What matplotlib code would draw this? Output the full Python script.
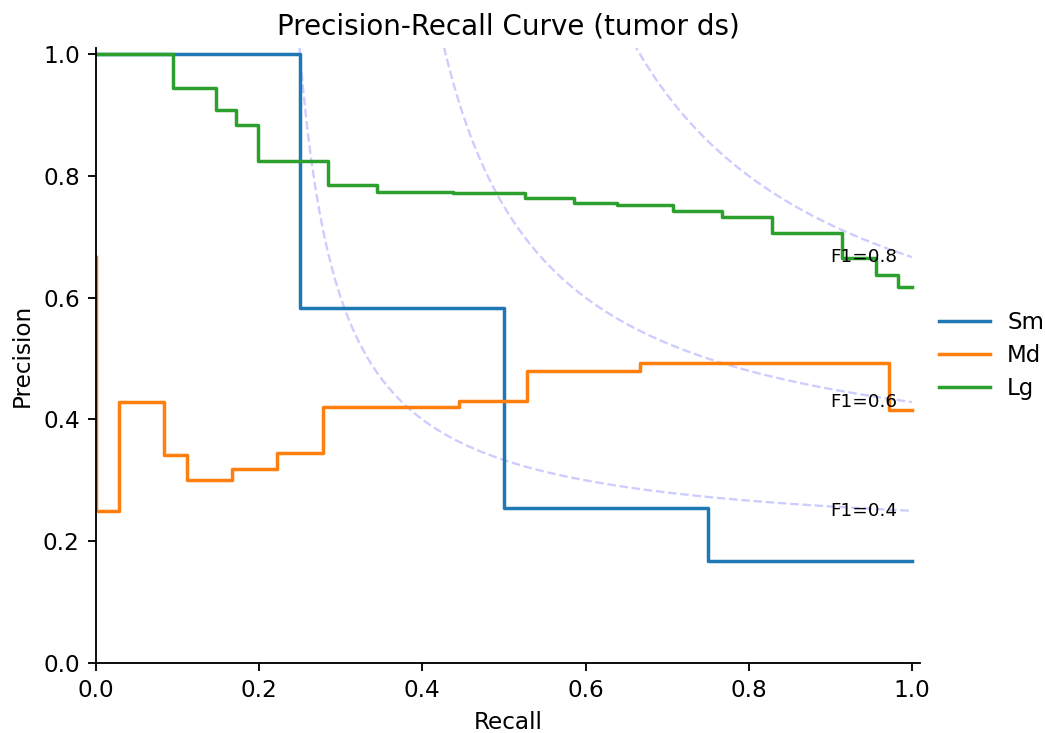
import numpy as np
import matplotlib
matplotlib.use("Agg")
import matplotlib.pyplot as plt

# Precision-recall curves, recall in descending order (sklearn-style arrays)
labels = ["Sm", "Md", "Lg"]
colors = ["#1f77b4", "#ff7f0e", "#2ca02c"]

sm_recall = [1.0, 0.75, 0.5, 0.25, 0.0]
sm_precision = [0.167, 0.254, 0.583, 1.0, 1.0]

md_recall = [1.0, 35/36, 32/36, 24/36, 19/36, 16/36, 10/36, 8/36, 6/36, 4/36, 3/36, 1/36, 0.0]
md_precision = [0.416, 0.493, 0.492, 0.479, 0.431, 0.420, 0.345, 0.319, 0.300, 0.342, 0.428, 0.250, 0.667]

lg_recall = [1.0, 0.983, 0.956, 0.914, 0.828, 0.767, 0.707, 0.638, 0.586, 0.526,
             0.4375, 0.344, 0.284, 0.198, 0.172, 0.147, 0.094, 0.0]
lg_precision = [0.617, 0.637, 0.665, 0.707, 0.732, 0.742, 0.752, 0.755, 0.764, 0.772,
                0.773, 0.785, 0.8245, 0.884, 0.909, 0.944, 1.0, 1.0]

f1_levels = [0.4, 0.6, 0.8]
title = "Precision-Recall Curve (tumor ds)"

dpi = 150
s = 1.11  # overall text/line scale
fig = plt.figure(figsize=(1045 / dpi, 733 / dpi), dpi=dpi)
ax = fig.add_axes([96 / 1045, 1 - 663 / 733, (920 - 96) / 1045, (663 - 48) / 733])

# iso-F1 reference curves
for f in f1_levels:
    x = np.linspace(0.01, 1, 200)
    y = f * x / (2 * x - f)
    keep = (y >= 0) & (2 * x - f > 0)
    ax.plot(x[keep], y[keep], color="blue", alpha=0.2, linestyle="--", linewidth=1.0 * s)
    ax.annotate(f"F1={f:.1f}", xy=(0.9, y[-1]), va="center", fontsize=8.8)

for rec, prec, lab, c in zip([sm_recall, md_recall, lg_recall],
                             [sm_precision, md_precision, lg_precision],
                             labels, colors):
    ax.plot(rec, prec, drawstyle="steps-post", color=c, linewidth=1.5 * s, label=lab)

ax.set_xlim(0, 1.01)
ax.set_ylim(0, 1.01)
ax.set_xticks([0, 0.2, 0.4, 0.6, 0.8, 1.0])
ax.set_yticks([0, 0.2, 0.4, 0.6, 0.8, 1.0])
ax.tick_params(labelsize=10 * s, width=0.8 * s, length=3.5 * s, pad=3.5 * s)
ax.set_xlabel("Recall", fontsize=10 * s, labelpad=4 * s)
ax.set_ylabel("Precision", fontsize=10 * s, labelpad=4 * s)
ax.set_title(title, fontsize=12 * s, pad=6 * s)
for side in ("left", "bottom"):
    ax.spines[side].set_linewidth(0.8 * s)
ax.spines["top"].set_visible(False)
ax.spines["right"].set_visible(False)
ax.legend(loc="center left", bbox_to_anchor=(1.0, 0.5), frameon=False, fontsize=11,
          handlelength=2.2, handletextpad=0.75, borderaxespad=0.45, borderpad=0.4,
          labelspacing=0.45)

fig.savefig("out.png", dpi=dpi)
